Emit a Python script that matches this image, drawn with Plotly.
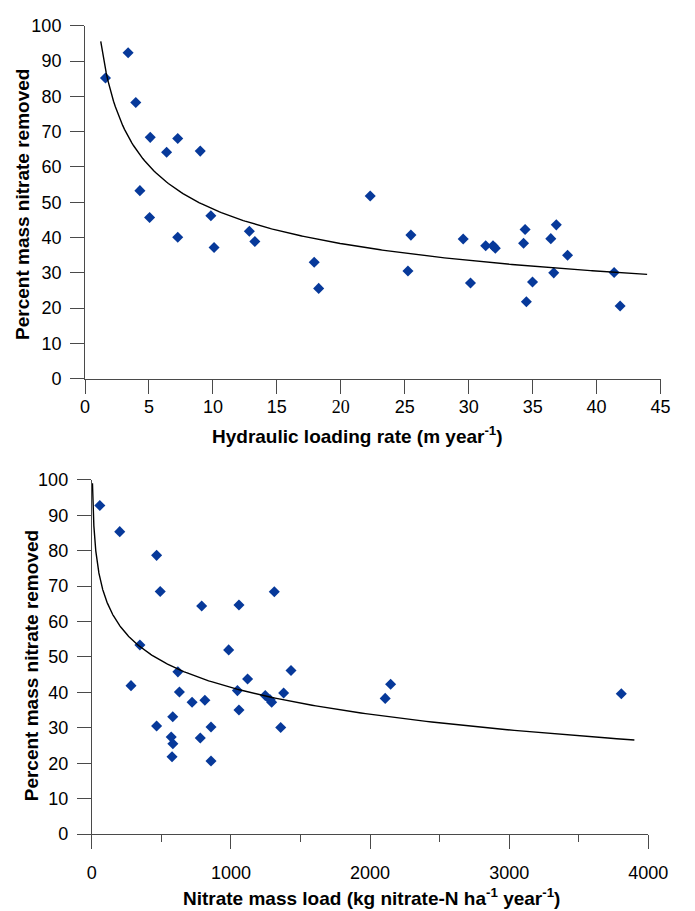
import numpy as np
import plotly.graph_objects as go

W, H = 695, 911

# ---------------- data: top panel ----------------
hyd_rate = [1.6, 3.37, 3.97, 5.1, 7.25, 6.38, 9.01, 4.29, 5.05, 7.25, 9.84, 10.09,
            12.85, 13.28, 17.92, 18.27, 22.3, 25.48, 25.25, 29.57, 30.14, 31.33,
            31.9, 32.08, 34.41, 34.29, 34.51, 34.99, 36.85, 36.42, 36.65, 37.73,
            41.37, 41.84]
hyd_removed = [85.2, 92.4, 78.3, 68.4, 68.1, 64.2, 64.5, 53.3, 45.7, 40.1, 46.2, 37.2,
               41.8, 38.9, 33.0, 25.6, 51.8, 40.7, 30.5, 39.6, 27.1, 37.7,
               37.7, 37.0, 42.3, 38.4, 21.8, 27.4, 43.6, 39.7, 30.0, 35.0,
               30.1, 20.6]
# power-law trend line: y = a * x^b
hyd_fit_a = 102.3
hyd_fit_b = -0.328
hyd_fit_range = (1.23, 43.95)
hyd_ticks = [0, 5, 10, 15, 20, 25, 30, 35, 40, 45]
hyd_ticklabels = ["0", "5", "10", "15",
                  "<span style='font-family:Liberation Serif, Times New Roman, serif'>20</span>",
                  "25", "30", "35", "40", "45"]

# ---------------- data: bottom panel ----------------
load = [58, 201, 466, 492, 1312, 790, 1058, 346, 984, 1432, 619, 1120, 282, 1047,
        630, 1379, 1247, 1282, 1293, 721, 813, 1058, 582, 466, 857, 1358, 780,
        571, 583, 577, 857, 2148, 2109, 3806]
load_removed = [92.8, 85.4, 78.7, 68.5, 68.4, 64.4, 64.7, 53.4, 52.0, 46.2, 45.8, 43.8,
                41.9, 40.5, 40.1, 39.8, 39.1, 37.9, 37.2, 37.2, 37.8, 35.0, 33.1,
                30.5, 30.2, 30.1, 27.1, 27.4, 25.5, 21.8, 20.6, 42.3, 38.3, 39.6]
# logarithmic trend line: y = a - b * ln(x)
load_fit_a = 116.6
load_fit_b = 10.89
load_fit_range = (5, 3900)
load_ticks = [0, 1000, 2000, 3000, 4000]
pct_ticks = [0, 10, 20, 30, 40, 50, 60, 70, 80, 90, 100]

# ---------------- styling ----------------
MARK = "#07399a"
AXC = "#4a4a4a"
FONT = "Liberation Sans, Arial, sans-serif"


def px_x(p):
    return p / W


def px_y(p):
    return 1 - p / H


hx = np.linspace(*hyd_fit_range, 300)
hy = hyd_fit_a * hx ** hyd_fit_b
lx = np.geomspace(*load_fit_range, 400)
ly = load_fit_a - load_fit_b * np.log(lx)

fig = go.Figure()
fig.add_trace(go.Scatter(x=hyd_rate, y=hyd_removed, mode="markers",
                         marker=dict(symbol="diamond", size=8.5, color=MARK),
                         xaxis="x", yaxis="y", showlegend=False))
fig.add_trace(go.Scatter(x=hx, y=hy, mode="lines", line=dict(color="black", width=1.4),
                         xaxis="x", yaxis="y", showlegend=False))
fig.add_trace(go.Scatter(x=load, y=load_removed, mode="markers",
                         marker=dict(symbol="diamond", size=8.5, color=MARK),
                         xaxis="x2", yaxis="y2", showlegend=False))
fig.add_trace(go.Scatter(x=lx, y=ly, mode="lines", line=dict(color="black", width=1.4),
                         xaxis="x2", yaxis="y2", showlegend=False))

common = dict(showline=True, linecolor=AXC, linewidth=1, ticks="outside", tickcolor=AXC,
              tickwidth=1, ticklen=14, showgrid=False, zeroline=False,
              tickfont=dict(family=FONT, size=18, color="black"), fixedrange=True)

fig.update_layout(
    width=W, height=H, margin=dict(l=0, r=0, t=0, b=0),
    paper_bgcolor="white", plot_bgcolor="white",
    xaxis=dict(domain=[px_x(83), px_x(680)], range=[0, 45], anchor="y",
               tickmode="array", tickvals=hyd_ticks, ticktext=hyd_ticklabels,
               ticklabelstandoff=-2, **common),
    yaxis=dict(domain=[px_y(377), px_y(16.2)], range=[0, 100], anchor="x",
               tickmode="array", tickvals=pct_ticks, ticklabelstandoff=5, **common),
    xaxis2=dict(domain=[px_x(90), px_x(667.3)], range=[0, 4000], anchor="y2",
                tickmode="array", tickvals=load_ticks, ticklabelstandoff=8,
                minor=dict(ticks="outside", ticklen=7, tickcolor=AXC, dtick=500, tick0=0),
                **common),
    yaxis2=dict(domain=[px_y(842.5), px_y(480.5)], range=[0, 100], anchor="x2",
                tickmode="array", tickvals=pct_ticks, ticklabelstandoff=5, **common),
)

tfont = dict(family=FONT, size=19, color="black")
ann = [
    dict(text="<b>Percent mass nitrate removed</b>", x=px_x(18), y=px_y(199), textangle=-90),
    dict(text="<b>Percent mass nitrate removed</b>", x=px_x(27), y=px_y(671), textangle=-90),
    dict(text="<b>Hydraulic loading rate (m year<sup>-1</sup>)</b>", x=px_x(366), y=px_y(435)),
    dict(text="<b>Nitrate mass load (kg nitrate-N ha<sup>-1</sup> year<sup>-1</sup>)</b>",
         x=px_x(380), y=px_y(907)),
]
for a in ann:
    fig.add_annotation(xref="paper", yref="paper", showarrow=False, font=tfont,
                       xanchor="center", yanchor="middle", **a)

fig.write_html("out.html")
